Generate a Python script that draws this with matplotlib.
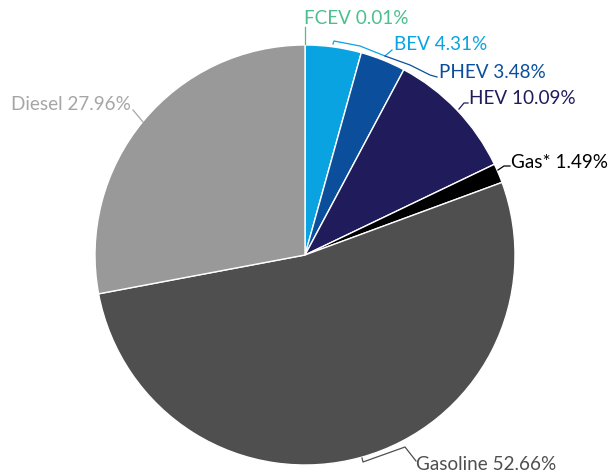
import numpy as np
import matplotlib
matplotlib.use("Agg")
import matplotlib.pyplot as plt

labels = ["FCEV", "BEV", "PHEV", "HEV", "Gas*", "Gasoline", "Diesel"]
shares = [0.01, 4.31, 3.48, 10.09, 1.49, 52.66, 27.96]
colors = ["#4cbf8c", "#0aa3e2", "#0b4f9c", "#201c5c", "#000000", "#4f4f4f", "#999999"]
text_colors = ["#4cbf8c", "#0aa3e2", "#0b4f9c", "#201c5c", "#000000", "#4f4f4f", "#a6a6a6"]

W, H = 611, 477
plt.rcParams['font.family'] = ['Lato', 'DejaVu Sans']

fig = plt.figure(figsize=(W / 100, H / 100), dpi=100)
ax = fig.add_axes([0, 0, 1, 1])

def px(x, y):
    return x, H - y

cx, cy = px(305, 256)
R = 210
ax.pie(shares, colors=colors, startangle=90, counterclock=False,
       center=(cx, cy), radius=R, frame=True,
       wedgeprops=dict(edgecolor="white", linewidth=1))
ax.set_xlim(0, W)
ax.set_ylim(0, H)
ax.set_aspect("equal")
ax.axis("off")

# label text positions (left edge, vertical centre) in pixels
text_pos = {
    "FCEV": (304, 18),
    "BEV": (394, 45),
    "PHEV": (439, 72),
    "HEV": (469, 99),
    "Gas*": (511, 162),
    "Gasoline": (416, 465),
    "Diesel": (11, 105),
}
# leader line paths in pixels
leaders = {
    "FCEV": [(305, 45), (305, 28)],
    "BEV": [(333, 45), (334, 42), (360, 47), (385, 57), (392, 51)],
    "PHEV": [(385, 57), (410, 66), (430, 76), (437, 78)],
    "HEV": [(459, 110), (464, 104), (468, 104)],
    "Gas*": [(498, 171), (504, 167), (510, 167)],
    "Gasoline": [(362, 459), (363, 463), (405, 448), (416, 462)],
    "Diesel": [(133, 111), (143, 123)],
}

for lab, val, tc in zip(labels, shares, text_colors):
    x, y = px(*text_pos[lab])
    ax.text(x, y, f"{lab} {val:.2f}%", color=tc, fontsize=13.6,
            ha="left", va="center")
    pts = np.array([px(a, b) for a, b in leaders[lab]])
    ax.plot(pts[:, 0], pts[:, 1], color=tc, linewidth=0.9)

fig.savefig("out.png", dpi=100)
